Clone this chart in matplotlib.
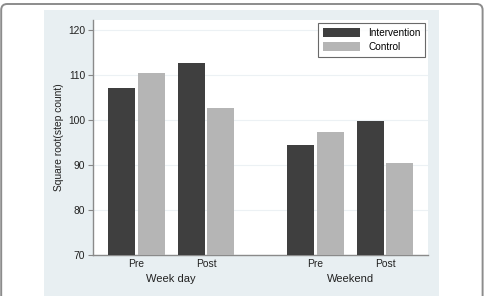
import matplotlib
matplotlib.use("Agg")
import matplotlib.pyplot as plt
from matplotlib.patches import FancyBboxPatch, Rectangle
import numpy as np

plt.rcParams["font.family"] = ["Liberation Sans", "DejaVu Sans"]

periods = ["Pre", "Post", "Pre", "Post"]
groups = ["Week day", "Weekend"]
intervention = [107.1, 112.7, 94.4, 99.8]
control = [110.4, 102.7, 97.4, 90.4]
yticks = [70, 80, 90, 100, 110, 120]

W, H = 484, 296
fig = plt.figure(figsize=(W / 100, H / 100), dpi=100)
fig.patch.set_facecolor("white")

# background layer
bg = fig.add_axes([0, 0, 1, 1], zorder=-10)
bg.set_xlim(0, W)
bg.set_ylim(H, 0)
bg.axis("off")
bg.add_patch(FancyBboxPatch((1.2, 4.0), W - 2.6, H + 20,
                            boxstyle="round,pad=0,rounding_size=6",
                            facecolor="white", edgecolor="#8c8c8c", linewidth=1.4))
bg.add_patch(Rectangle((44, 10), 438.5 - 44, H, facecolor="#e8eff2", edgecolor="none"))

ax = fig.add_axes([92.7 / W, (H - 255) / H, (428 - 92.7) / W, (255 - 20) / H])
ax.set_facecolor("white")

pos = np.array([0, 1, 2.576, 3.576])
w = 0.389
off = 0.2115
ax.bar(pos - off, intervention, w, color="#3f3f3f", label="Intervention", zorder=3)
ax.bar(pos + off, control, w, color="#b5b5b5", label="Control", zorder=3)

ax.set_ylim(70, 122.2)
ax.set_xlim(-0.630, 4.194)
ax.set_yticks(yticks)
ax.set_yticklabels([str(v) for v in yticks], fontsize=7.4, color="#222222")
ax.set_xticks(pos)
ax.set_xticklabels(periods, fontsize=7.4, color="#222222")
ax.tick_params(axis="x", length=0, pad=3)
ax.tick_params(axis="y", length=3.5, width=0.8, color="#888888", pad=2)
ax.grid(axis="y", color="#ecf1f4", linewidth=0.8, zorder=0)
for s in ["top", "right"]:
    ax.spines[s].set_visible(False)
for s in ["left", "bottom"]:
    ax.spines[s].set_color("#8a8a8a")
    ax.spines[s].set_linewidth(1.0)

ax.set_ylabel("Square root(step count)", fontsize=7.4, color="#222222", labelpad=3)

for gx, g in zip([(pos[0] + pos[1]) / 2, (pos[2] + pos[3]) / 2], groups):
    ax.text(gx, -0.101, g, transform=ax.get_xaxis_transform(), ha="center",
            va="center", fontsize=8.0, color="#222222")

leg = ax.legend(loc="upper right", bbox_to_anchor=(1.0 - 3 / 335.3, 1.0 - 3.3 / 235),
                fontsize=7.2, frameon=True, fancybox=False, edgecolor="#444444",
                handlelength=3.7, handleheight=1.0, handletextpad=0.85,
                borderpad=0.46, labelspacing=0.42, borderaxespad=0)
leg.get_frame().set_linewidth(0.8)

fig.savefig("out.png", dpi=100, facecolor="white")
